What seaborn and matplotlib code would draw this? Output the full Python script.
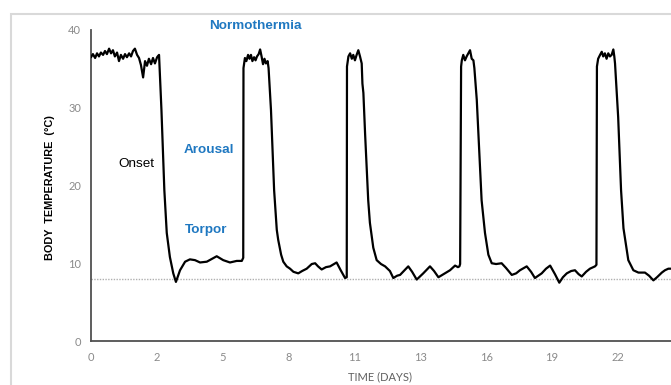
import matplotlib
matplotlib.use("Agg")
import matplotlib.pyplot as plt
import seaborn as sns
import pandas as pd
from matplotlib.patches import Rectangle

# ---------------- data ----------------
days = [
    0.00, 0.08, 0.17, 0.25, 0.33, 0.41, 0.50, 0.58, 0.66, 0.75,
    0.83, 0.91, 0.99, 1.08, 1.16, 1.24, 1.33, 1.41, 1.49, 1.58,
    1.66, 1.74, 1.82, 1.91, 1.99, 2.07, 2.16, 2.24, 2.32, 2.40,
    2.49, 2.57, 2.65, 2.74, 2.82,
    2.92, 3.04, 3.14, 3.27, 3.41, 3.52, 3.69, 3.90, 4.10, 4.31,
    4.52, 4.80, 5.21, 5.48, 5.76, 6.04, 6.25, 6.31,
    6.32, 6.38, 6.44, 6.51, 6.57, 6.63, 6.69, 6.76, 6.82, 6.88,
    6.95, 7.01, 7.07, 7.13, 7.19, 7.25, 7.32, 7.36,
    7.46, 7.59, 7.70, 7.76, 7.88, 7.97, 8.11, 8.25, 8.39, 8.59,
    8.75, 8.94, 9.15, 9.29, 9.41, 9.56, 9.74, 9.91, 10.18, 10.35,
    10.53, 10.60,
    10.61, 10.67, 10.74, 10.81, 10.87, 10.94, 11.01, 11.08, 11.15, 11.22,
    11.25, 11.29,
    11.36, 11.49, 11.56, 11.70, 11.84, 12.02, 12.19, 12.39, 12.53, 12.69,
    12.81, 13.15, 13.31, 13.50, 13.77, 14.05, 14.22, 14.40, 14.67, 14.88,
    15.09, 15.21, 15.27, 15.30,
    15.34, 15.37, 15.43, 15.50, 15.57, 15.64, 15.71, 15.78, 15.85, 15.89,
    15.99, 16.19,
    16.33, 16.47, 16.61, 16.79, 17.02, 17.20, 17.44, 17.62, 17.78, 18.06,
    18.24, 18.40, 18.68, 18.86, 19.03, 19.23, 19.41, 19.56, 19.72, 19.90,
    20.06, 20.21, 20.34, 20.52, 20.68, 20.89, 20.95,
    20.97, 21.02, 21.10, 21.17, 21.23, 21.30, 21.37, 21.44, 21.51, 21.58,
    21.65, 21.69, 21.72, 21.85, 21.97, 22.07,
    22.27, 22.48, 22.69, 22.96, 23.13, 23.31, 23.46, 23.66, 23.79, 23.93,
    24.04,
]

body_temp_c = [
    36.5, 36.9, 36.4, 37.0, 36.6, 37.1, 36.8, 37.3, 36.9, 37.6,
    37.0, 37.4, 36.6, 37.1, 36.0, 36.8, 36.3, 36.9, 36.5, 37.0,
    36.6, 37.3, 37.6, 36.8, 36.4, 35.5, 33.9, 36.0, 35.4, 36.3,
    35.6, 36.4, 35.7, 36.5, 36.8,
    29.7, 19.4, 13.9, 10.8, 8.7, 7.6, 9.1, 10.2, 10.5, 10.4,
    10.1, 10.2, 10.9, 10.4, 10.1, 10.3, 10.3, 10.7,
    35.1, 36.4, 36.0, 36.8, 36.3, 36.8, 36.0, 36.5, 36.1, 36.6,
    36.9, 37.5, 36.6, 35.6, 36.3, 35.7, 36.0, 35.1,
    29.7, 19.4, 14.3, 13.0, 11.1, 10.2, 9.6, 9.3, 8.9, 8.7,
    9.0, 9.3, 9.9, 10.0, 9.6, 9.2, 9.5, 9.6, 10.1, 9.1,
    8.1, 8.2,
    35.3, 36.6, 37.0, 36.3, 36.8, 36.1, 36.8, 37.4, 36.6, 35.7,
    33.1, 31.9,
    26.7, 18.1, 15.2, 12.0, 10.4, 9.9, 9.6, 9.0, 8.1, 8.4,
    8.5, 9.6, 8.9, 7.9, 8.7, 9.6, 9.0, 8.2, 8.7, 9.1,
    9.7, 9.5, 9.6, 9.9,
    35.3, 36.1, 36.8, 36.1, 36.6, 37.0, 37.4, 36.3, 36.1, 35.1,
    31.0, 18.1,
    13.9, 11.1, 10.0, 9.9, 10.0, 9.4, 8.5, 8.7, 9.1, 9.6,
    8.9, 8.1, 8.7, 9.3, 9.7, 8.6, 7.5, 8.2, 8.7, 9.0,
    9.1, 8.6, 8.3, 8.9, 9.3, 9.6, 9.8,
    35.3, 36.3, 36.8, 37.2, 36.6, 37.0, 36.3, 37.0, 36.6, 36.8,
    37.5, 36.6, 35.7, 28.8, 19.4, 14.5,
    10.4, 9.1, 8.8, 8.8, 8.4, 7.8, 8.2, 8.8, 9.1, 9.3,
    9.3,
]

x_tick_pos = [0, 2.73, 5.46, 8.19, 10.92, 13.65, 16.38, 19.11, 21.84]
x_tick_labels = ["0", "2", "5", "8", "11", "13", "16", "19", "22"]
y_ticks = [0, 10, 20, 30, 40]
threshold_c = 8

annotations = [
    ("Normothermia", 6.80, 40.5, "#1F78C1", "bold"),
    ("Arousal", 4.90, 24.6, "#1F78C1", "bold"),
    ("Torpor", 4.78, 14.3, "#1F78C1", "bold"),
    ("Onset", 1.86, 22.8, "black", "normal"),
]

df = pd.DataFrame({"day": days, "temp": body_temp_c})

# ---------------- figure ----------------
sns.set_style("white")
plt.rcParams["font.family"] = ["Liberation Sans", "DejaVu Sans"]

fig = plt.figure(figsize=(6.71, 3.85), dpi=100)
ax = fig.add_axes([91 / 671, 1 - 341 / 385, 580 / 671, (341 - 30) / 385])

# light gray frame of the original chart area
fig.patches.append(Rectangle((11 / 671, -0.1), 1.2, 0.1 + (385 - 14) / 385,
                             transform=fig.transFigure, fill=False,
                             edgecolor="#d9d9d9", linewidth=1.5))

ax.axhline(threshold_c, color="#b0b0b0", linestyle=(0, (1, 1)), linewidth=1.0, zorder=1)

sns.lineplot(data=df, x="day", y="temp", sort=False, estimator=None,
             color="black", linewidth=1.6, ax=ax, zorder=3)

ax.set_xlim(0, 24.04)
ax.set_ylim(0, 40)
ax.set_xticks(x_tick_pos)
ax.set_xticklabels(x_tick_labels)
ax.set_yticks(y_ticks)
ax.set_yticklabels([str(v) for v in y_ticks])

for lab in ax.get_xticklabels() + ax.get_yticklabels():
    lab.set_fontfamily("Lato")
    lab.set_fontsize(8)
    lab.set_color("#8a8a8a")
ax.tick_params(axis="both", length=0)
ax.tick_params(axis="y", pad=7)
ax.tick_params(axis="x", pad=8)

for side in ["top", "right"]:
    ax.spines[side].set_visible(False)
for side in ["left", "bottom"]:
    ax.spines[side].set_color("#505050")
    ax.spines[side].set_linewidth(1.3)

ax.set_xlabel("TIME (DAYS)", fontfamily="Lato", fontsize=8, color="#606060", va="center")
ax.xaxis.set_label_coords((380 - 91) / 580, -(377 - 341) / 311)
ax.set_ylabel("BODY  TEMPERATURE  (°C)", fontsize=7.8, fontweight="bold", color="black",
              va="center")
ax.yaxis.set_label_coords(-(91 - 50) / 580, (341 - 188) / 311)

for text, x, y, color, weight in annotations:
    ax.text(x, y, text, color=color, fontweight=weight, fontsize=9.7,
            ha="center", va="center", clip_on=False)

fig.savefig("out.png", dpi=100)
